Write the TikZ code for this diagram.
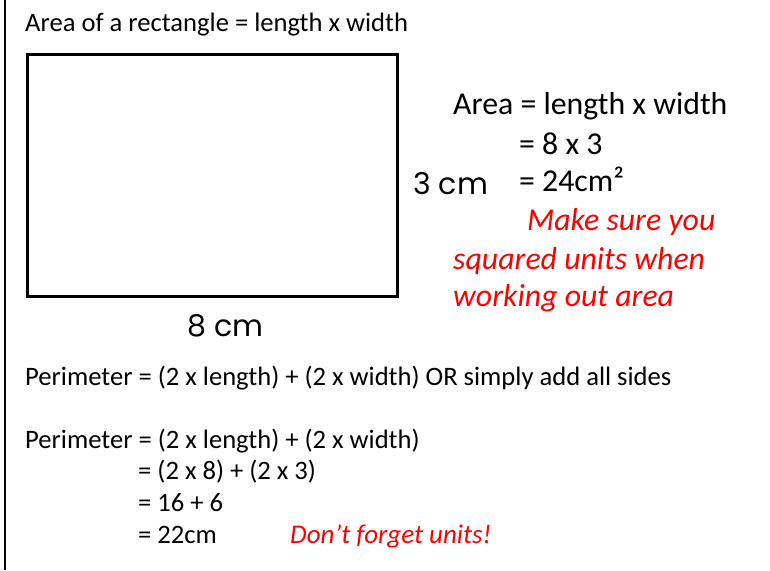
\documentclass[tikz,border=0pt]{standalone}
\usepackage{fontspec}
\setmainfont{Carlito}
\newfontfamily\comicfont{Poppins}
\begin{document}
\begin{tikzpicture}[x=1pt,y=-1pt,
  txt/.style={anchor=base west,inner sep=0pt,font=\fontsize{26.6}{30}\selectfont},
  big/.style={anchor=base west,inner sep=0pt,font=\fontsize{31.8}{36}\selectfont},
  note/.style={anchor=base west,inner sep=0pt,text=red,font=\fontsize{31.8}{36}\selectfont\itshape},
  dim/.style={anchor=base west,inner sep=0pt,font=\fontsize{30}{34}\selectfont\comicfont}]
\useasboundingbox (0,0) rectangle (770,570);
\fill[white] (0,0) rectangle (770,570);
\draw[line width=2pt] (5,0) coordinate (bt) -- (5,570) coordinate (bb);
\node[txt] (t1) at (25,31) {Area of a rectangle = length x width};
\draw[line width=3pt] (27,54) rectangle (397,296);
\node[dim] (w) at (413,194) {3 cm};
\node[dim] (l) at (187,336) {8 cm};
\node[big] (a1) at (453,114) {Area = length x width};
\node[big] (a2) at (519,154) {= 8 x 3};
\node[big] (a3) at (519,191) {= 24cm²};
\node[note] (n1) at (527,230) {Make sure you};
\node[note] (n2) at (453,269) {squared units when};
\node[note] (n3) at (453,306) {working out area};
\node[txt] (p0) at (25,385) {Perimeter = (2 x length) + (2 x width) OR simply add all sides};
\node[txt] (p1) at (25,448) {Perimeter = (2 x length) + (2 x width)};
\node[txt] (p2) at (138,479) {= (2 x 8) + (2 x 3)};
\node[txt] (p3) at (138,511) {= 16 + 6};
\node[txt] (p4) at (138,543) {= 22cm};
\node[txt,text=red,font=\fontsize{27}{30}\selectfont\itshape] (d) at (290,543) {Don’t forget units!};
\end{tikzpicture}
\end{document}
